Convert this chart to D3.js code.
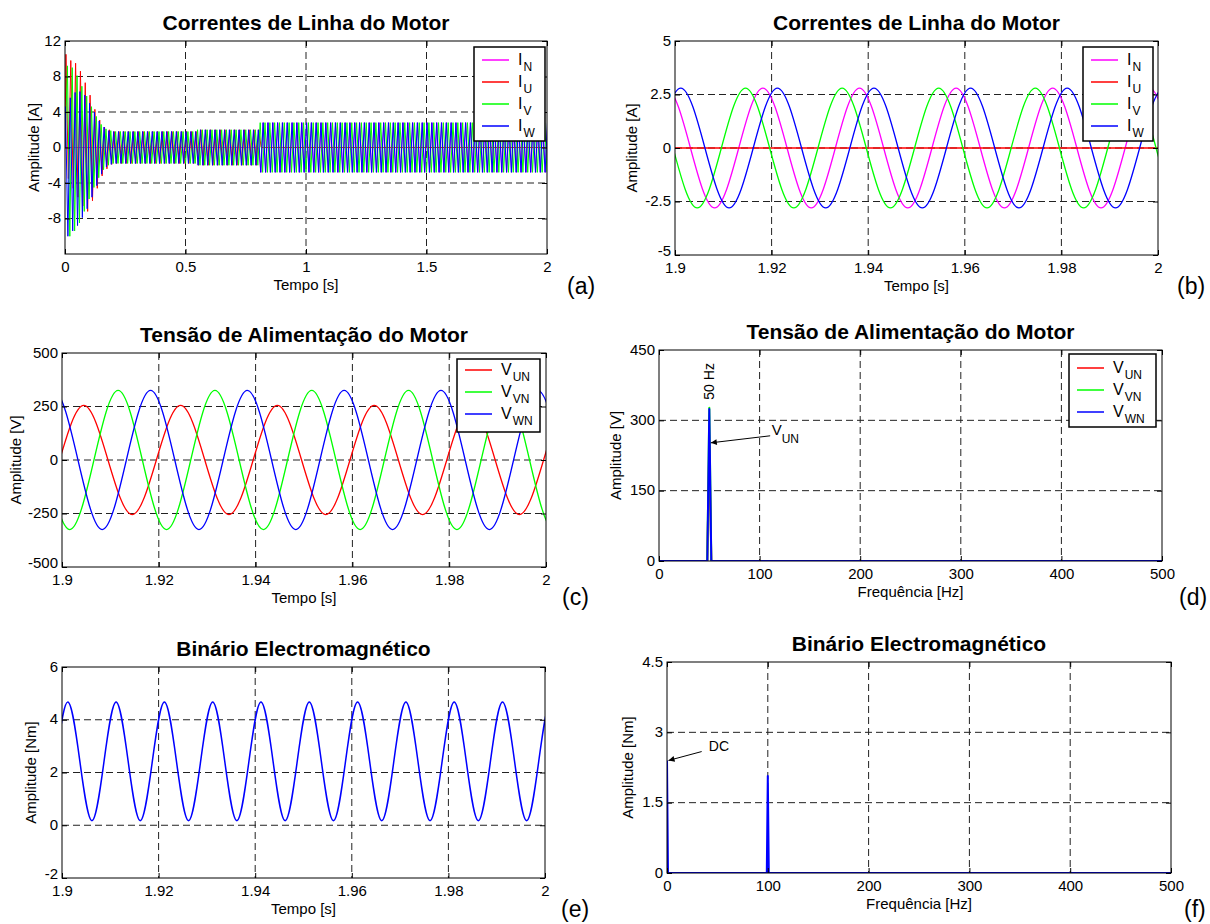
<!DOCTYPE html>
<html>
<head>
<meta charset="utf-8">
<script src="https://cdn.jsdelivr.net/npm/d3@7"></script>
<style>
  body { margin: 0; background: #fff; }
  text { font-family: "Liberation Sans", Arial, Helvetica, sans-serif; fill: #000; }
</style>
</head>
<body>
<div id="fig"></div>
<script>
// ---- data ----

// (a) line currents 0..2 s: time of first peak, start-up peaks (one per half cycle),
// then steady runs [until time, |peak|]; order N, U, V, W
const HALF_CYCLE = 0.01;
const aFirstPeak = [0.003, 0.004, 0.010, 0.002];
const aStartIN = [];
const aStartIU = [10.5, -3.5, 9.8, -4.6, 9.5, -5.6, 8.6, -6.6, 7.3, -7.2, 5.9, -6.0, 4.3, -4.6, 3.1, -3.2, 2.3, -2.4, 2.0, -1.9];
const aStartIV = [9.2, -10.0, 9.0, -9.4, 8.1, -8.5, 6.9, -7.2, 5.8, -5.8, 4.6, -4.5, 3.5, -3.4, 2.6, -2.5, 2.1, -2.0, 1.9, -1.8];
const aStartIW = [4.6, -10.0, 5.6, -9.4, 6.2, -8.8, 6.3, -7.9, 5.9, -6.9, 5.0, -5.6, 4.0, -4.3, 3.0, -3.0, 2.3, -2.2, 1.9, -1.9];
const aRunsIN = [[0.81, 0], [2.01, 2.8]];
const aRunsIU = [[0.55, 1.8], [0.81, 2.0], [2.01, 0]];
const aRunsIV = [[0.55, 1.8], [0.81, 2.0], [2.01, 2.8]];
const aRunsIW = [[0.55, 1.8], [0.81, 2.0], [2.01, 2.8]];

// (b) line currents 1.9..2 s, peaks [t, A]
const bIN = [[1.8882, -2.8], [1.8982, 2.8], [1.9082, -2.8], [1.9182, 2.8], [1.9282, -2.8], [1.9382, 2.8], [1.9482, -2.8], [1.9582, 2.8], [1.9682, -2.8], [1.9782, 2.8], [1.9882, -2.8], [1.9982, 2.8], [2.0082, -2.8], [2.0182, 2.8]];
const bIU = [[1.89, 0], [2.01, 0]];
const bIV = [[1.8846, -2.8], [1.8946, 2.8], [1.9046, -2.8], [1.9146, 2.8], [1.9246, -2.8], [1.9346, 2.8], [1.9446, -2.8], [1.9546, 2.8], [1.9646, -2.8], [1.9746, 2.8], [1.9846, -2.8], [1.9946, 2.8], [2.0046, -2.8], [2.0146, 2.8]];
const bIW = [[1.8812, 2.8], [1.8912, -2.8], [1.9012, 2.8], [1.9112, -2.8], [1.9212, 2.8], [1.9312, -2.8], [1.9412, 2.8], [1.9512, -2.8], [1.9612, 2.8], [1.9712, -2.8], [1.9812, 2.8], [1.9912, -2.8], [2.0012, 2.8], [2.0112, -2.8]];

// (c) supply voltages 1.9..2 s, peaks [t, V]
const cVUN = [[1.8845, 255], [1.8945, -255], [1.9045, 255], [1.9145, -255], [1.9245, 255], [1.9345, -255], [1.9445, 255], [1.9545, -255], [1.9645, 255], [1.9745, -255], [1.9845, 255], [1.9945, -255], [2.0045, 255], [2.0145, -255]];
const cVVN = [[1.8816, -325], [1.8916, 325], [1.9016, -325], [1.9116, 325], [1.9216, -325], [1.9316, 325], [1.9416, -325], [1.9516, 325], [1.9616, -325], [1.9716, 325], [1.9816, -325], [1.9916, 325], [2.0016, -325], [2.0116, 325]];
const cVWN = [[1.8883, -325], [1.8983, 325], [1.9083, -325], [1.9183, 325], [1.9283, -325], [1.9383, 325], [1.9483, -325], [1.9583, 325], [1.9683, -325], [1.9783, 325], [1.9883, -325], [1.9983, 325], [2.0083, -325], [2.0183, 325]];

// (d) voltage spectrum
const dFreq = [0, 48, 50, 52, 500];
const dVUN = [0, 0, 255, 0, 0];
const dVVN = [0, 0, 327, 0, 0];
const dVWN = [0, 0, 324, 0, 0];

// (e) electromagnetic torque 1.9..2 s, peaks [t, Nm]
const eTorque = [[1.8912, 4.67], [1.8962, 0.17], [1.9012, 4.67], [1.9062, 0.17], [1.9112, 4.67], [1.9162, 0.17], [1.9212, 4.67], [1.9262, 0.17], [1.9312, 4.67], [1.9362, 0.17], [1.9412, 4.67], [1.9462, 0.17], [1.9512, 4.67], [1.9562, 0.17], [1.9612, 4.67], [1.9662, 0.17], [1.9712, 4.67], [1.9762, 0.17], [1.9812, 4.67], [1.9862, 0.17], [1.9912, 4.67], [1.9962, 0.17], [2.0012, 4.67], [2.0062, 0.17]];

// (f) torque spectrum
const fFreq = [0, 1, 99, 100, 101, 500];
const fTorque = [2.4, 0, 0, 2.07, 0, 0];

// ticks
const tTicks = [1.9, 1.92, 1.94, 1.96, 1.98, 2];
const tLabels = ["1.9", "1.92", "1.94", "1.96", "1.98", "2"];
const fTicks = [0, 100, 200, 300, 400, 500];
const fLabels = ["0", "100", "200", "300", "400", "500"];

const MAGENTA = "#ff00ff", RED = "#ff0000", GREEN = "#00ff00", BLUE = "#0000ff";

// build the (a) peak list from the readings
function peakList(first, start, runs) {
  const pts = [[0, 0]];
  let t = first;
  start.forEach(v => { pts.push([t, v]); t += HALF_CYCLE; });
  let sign = start.length ? -Math.sign(start[start.length - 1]) : 1;
  runs.forEach(([until, amp]) => {
    while (t < until) { pts.push([t, sign * amp]); sign = -sign; t += HALF_CYCLE; }
  });
  return pts;
}

const svg = d3.select("#fig").append("svg")
  .attr("width", 1210).attr("height", 924);

const defs = svg.append("defs");
defs.append("marker")
  .attr("id", "arrow").attr("viewBox", "0 0 10 10")
  .attr("refX", 10).attr("refY", 5)
  .attr("markerWidth", 8).attr("markerHeight", 6)
  .attr("markerUnits", "userSpaceOnUse")
  .attr("orient", "auto")
  .append("path").attr("d", "M0,0L10,5L0,10z").attr("fill", "#000");

let clipId = 0;

function drawPanel(p) {
  const x = d3.scaleLinear().domain(p.xDom).range([p.left, p.right]);
  const y = d3.scaleLinear().domain(p.yDom).range([p.bottom, p.top]);
  const g = svg.append("g");

  // grid
  g.selectAll(".gx").data(p.xTicks.filter(v => v > p.xDom[0] && v < p.xDom[1]))
    .enter().append("line")
    .attr("x1", d => x(d)).attr("x2", d => x(d))
    .attr("y1", p.top).attr("y2", p.bottom)
    .attr("stroke", "#222").attr("stroke-width", 1).attr("stroke-dasharray", "7,4");
  g.selectAll(".gy").data(p.yTicks.filter(v => v > p.yDom[0] && v < p.yDom[1]))
    .enter().append("line")
    .attr("x1", p.left).attr("x2", p.right)
    .attr("y1", d => y(d)).attr("y2", d => y(d))
    .attr("stroke", "#222").attr("stroke-width", 1).attr("stroke-dasharray", "7,4");

  // series
  const cid = "clip" + (clipId++);
  defs.append("clipPath").attr("id", cid).append("rect")
    .attr("x", p.left).attr("y", p.top)
    .attr("width", p.right - p.left).attr("height", p.bottom - p.top);
  const line = d3.line().x(d => x(d[0])).y(d => y(d[1]))
    .curve(p.curve || d3.curveMonotoneX);
  const sg = g.append("g").attr("clip-path", `url(#${cid})`);
  p.series.forEach(s => {
    sg.append("path").datum(s.pts)
      .attr("d", line)
      .attr("fill", "none")
      .attr("stroke", s.color)
      .attr("stroke-width", p.lw || 1.3)
      .attr("stroke-linejoin", "round");
  });

  // axes box and ticks
  const h = p.bottom - p.top;
  const xa = g.append("g").attr("transform", `translate(0,${p.bottom})`)
    .call(d3.axisBottom(x).tickValues(p.xTicks).tickFormat((d, i) => p.xLabels[i])
      .tickSizeInner(-5).tickSizeOuter(0).tickPadding(7));
  const xt = g.append("g").attr("transform", `translate(0,${p.top})`)
    .call(d3.axisTop(x).tickValues(p.xTicks).tickFormat(() => "")
      .tickSizeInner(-5).tickSizeOuter(0));
  const ya = g.append("g").attr("transform", `translate(${p.left},0)`)
    .call(d3.axisLeft(y).tickValues(p.yTicks).tickFormat((d, i) => p.yLabels[i])
      .tickSizeInner(-5).tickSizeOuter(0).tickPadding(4));
  const yr = g.append("g").attr("transform", `translate(${p.right},0)`)
    .call(d3.axisRight(y).tickValues(p.yTicks).tickFormat(() => "")
      .tickSizeInner(-5).tickSizeOuter(0));
  [xa, xt, ya, yr].forEach(a => {
    a.select(".domain").remove();
    a.selectAll("line").attr("stroke", "#000");
    a.selectAll("text").style("font-size", "15px")
      .style("font-family", "'Liberation Sans', Arial, sans-serif").attr("fill", "#000");
  });
  // lowest label sits a touch above the corner, as in the original
  ya.selectAll("text").attr("dy", d => (d === p.yDom[0] && d < 0) ? "0.05em" : "0.28em");
  g.append("rect")
    .attr("x", p.left).attr("y", p.top)
    .attr("width", p.right - p.left).attr("height", h)
    .attr("fill", "none").attr("stroke", "#000").attr("stroke-width", 1);

  // title & labels
  g.append("text").attr("x", (p.left + p.right) / 2).attr("y", p.top - 11)
    .attr("text-anchor", "middle").style("font-size", "21px").style("font-weight", "bold")
    .text(p.title);
  g.append("text").attr("x", (p.left + p.right) / 2).attr("y", p.bottom + 36)
    .attr("text-anchor", "middle").style("font-size", "15px").text(p.xTitle);
  g.append("text")
    .attr("transform", `translate(${p.yTitleX},${(p.top + p.bottom) / 2}) rotate(-90)`)
    .attr("text-anchor", "middle").style("font-size", "15px").text(p.yTitle);
  g.append("text").attr("x", p.tagX).attr("y", p.bottom + p.tagDy)
    .style("font-size", "23px").text(p.tag);

  // legend
  if (p.legend) {
    const L = p.legend;
    const lg = g.append("g");
    lg.append("rect").attr("x", L.x).attr("y", L.y).attr("width", L.w).attr("height", L.h)
      .attr("fill", "#fff").attr("stroke", "#000").attr("stroke-width", 1.5);
    L.items.forEach((it, i) => {
      const cy = L.y + L.first + i * 22;
      lg.append("line").attr("x1", L.x + 8).attr("x2", L.x + 35)
        .attr("y1", cy).attr("y2", cy).attr("stroke", it.color).attr("stroke-width", 1.5);
      const t = lg.append("text").attr("x", L.x + 44).attr("y", cy + 5).style("font-size", "16px");
      t.append("tspan").text(it.main);
      t.append("tspan").attr("dy", 6).attr("dx", 1).style("font-size", "12px").text(it.sub);
    });
  }
  if (p.annotate) p.annotate(g, x, y);
}

const timeLabelY = "Tempo [s]";

drawPanel({
  left: 65, right: 547, top: 41, bottom: 254,
  xDom: [0, 2], yDom: [-12, 12],
  xTicks: [0, 0.5, 1, 1.5, 2], xLabels: ["0", "0.5", "1", "1.5", "2"],
  yTicks: [12, 8, 4, 0, -4, -8], yLabels: ["12", "8", "4", "0", "-4", "-8"],
  title: "Correntes de Linha do Motor", xTitle: timeLabelY, yTitle: "Amplitude [A]",
  yTitleX: 39, tag: "(a)", tagX: 567, tagDy: 40, lw: 1, curve: d3.curveLinear,
  series: [
    { pts: peakList(aFirstPeak[0], aStartIN, aRunsIN), color: MAGENTA },
    { pts: peakList(aFirstPeak[1], aStartIU, aRunsIU), color: RED },
    { pts: peakList(aFirstPeak[2], aStartIV, aRunsIV), color: GREEN },
    { pts: peakList(aFirstPeak[3], aStartIW, aRunsIW), color: BLUE }
  ],
  legend: { x: 474, y: 47, w: 71, h: 94, first: 13, items: [
    { main: "I", sub: "N", color: MAGENTA }, { main: "I", sub: "U", color: RED },
    { main: "I", sub: "V", color: GREEN }, { main: "I", sub: "W", color: BLUE }] }
});

drawPanel({
  left: 675, right: 1158, top: 41, bottom: 255,
  xDom: [1.9, 2], yDom: [-5, 5],
  xTicks: tTicks, xLabels: tLabels,
  yTicks: [5, 2.5, 0, -2.5, -5], yLabels: ["5", "2.5", "0", "-2.5", "-5"],
  title: "Correntes de Linha do Motor", xTitle: timeLabelY, yTitle: "Amplitude [A]",
  yTitleX: 637, tag: "(b)", tagX: 1177, tagDy: 39,
  series: [
    { pts: bIN, color: MAGENTA }, { pts: bIU, color: RED },
    { pts: bIV, color: GREEN }, { pts: bIW, color: BLUE }
  ],
  legend: { x: 1083, y: 47, w: 70, h: 94, first: 13, items: [
    { main: "I", sub: "N", color: MAGENTA }, { main: "I", sub: "U", color: RED },
    { main: "I", sub: "V", color: GREEN }, { main: "I", sub: "W", color: BLUE }] }
});

drawPanel({
  left: 62, right: 546, top: 353, bottom: 567,
  xDom: [1.9, 2], yDom: [-500, 500],
  xTicks: tTicks, xLabels: tLabels,
  yTicks: [500, 250, 0, -250, -500], yLabels: ["500", "250", "0", "-250", "-500"],
  title: "Tensão de Alimentação do Motor", xTitle: timeLabelY, yTitle: "Amplitude [V]",
  yTitleX: 21, tag: "(c)", tagX: 562, tagDy: 38,
  series: [
    { pts: cVUN, color: RED }, { pts: cVVN, color: GREEN }, { pts: cVWN, color: BLUE }
  ],
  legend: { x: 457, y: 359, w: 83, h: 73, first: 11, items: [
    { main: "V", sub: "UN", color: RED }, { main: "V", sub: "VN", color: GREEN },
    { main: "V", sub: "WN", color: BLUE }] }
});

drawPanel({
  left: 659, right: 1162, top: 350, bottom: 561,
  xDom: [0, 500], yDom: [0, 450],
  xTicks: fTicks, xLabels: fLabels,
  yTicks: [0, 150, 300, 450], yLabels: ["0", "150", "300", "450"],
  title: "Tensão de Alimentação do Motor", xTitle: "Frequência [Hz]", yTitle: "Amplitude [V]",
  yTitleX: 621, tag: "(d)", tagX: 1179, tagDy: 44, lw: 2, curve: d3.curveLinear,
  series: [
    { pts: dFreq.map((f, i) => [f, dVUN[i]]), color: RED },
    { pts: dFreq.map((f, i) => [f, dVVN[i]]), color: GREEN },
    { pts: dFreq.map((f, i) => [f, dVWN[i]]), color: BLUE }
  ],
  legend: { x: 1069, y: 354, w: 87, h: 73, first: 14, items: [
    { main: "V", sub: "UN", color: RED }, { main: "V", sub: "VN", color: GREEN },
    { main: "V", sub: "WN", color: BLUE }] },
  annotate: (g, x, y) => {
    g.append("text")
      .attr("transform", `translate(${x(50) + 5},${y(d3.max(dVVN)) - 8}) rotate(-90)`)
      .style("font-size", "14px").text("50 Hz");
    g.append("line")
      .attr("x1", x(110.5)).attr("y1", y(267)).attr("x2", x(51.5)).attr("y2", y(252))
      .attr("stroke", "#000").attr("stroke-width", 1).attr("marker-end", "url(#arrow)");
    const t = g.append("text").attr("x", x(112)).attr("y", y(268)).style("font-size", "15px");
    t.append("tspan").text("V");
    t.append("tspan").attr("dy", 8).style("font-size", "12px").text("UN");
  }
});

drawPanel({
  left: 62, right: 545, top: 667, bottom: 878,
  xDom: [1.9, 2], yDom: [-2, 6],
  xTicks: tTicks, xLabels: tLabels,
  yTicks: [6, 4, 2, 0, -2], yLabels: ["6", "4", "2", "0", "-2"],
  title: "Binário Electromagnético", xTitle: timeLabelY, yTitle: "Amplitude [Nm]",
  yTitleX: 36, tag: "(e)", tagX: 561, tagDy: 39, lw: 1.5,
  series: [{ pts: eTorque, color: BLUE }]
});

drawPanel({
  left: 667, right: 1171, top: 662, bottom: 873,
  xDom: [0, 500], yDom: [0, 4.5],
  xTicks: fTicks, xLabels: fLabels,
  yTicks: [0, 1.5, 3, 4.5], yLabels: ["0", "1.5", "3", "4.5"],
  title: "Binário Electromagnético", xTitle: "Frequência [Hz]", yTitle: "Amplitude [Nm]",
  yTitleX: 633, tag: "(f)", tagX: 1184, tagDy: 44, lw: 2, curve: d3.curveLinear,
  series: [{ pts: fFreq.map((f, i) => [f, fTorque[i]]), color: BLUE }],
  annotate: (g, x, y) => {
    g.append("line")
      .attr("x1", x(34.4)).attr("y1", y(2.59)).attr("x2", x(1.5)).attr("y2", y(2.4))
      .attr("stroke", "#000").attr("stroke-width", 1).attr("marker-end", "url(#arrow)");
    g.append("text").attr("x", x(41.5)).attr("y", y(2.6)).style("font-size", "14px").text("DC");
  }
});
</script>
</body>
</html>
